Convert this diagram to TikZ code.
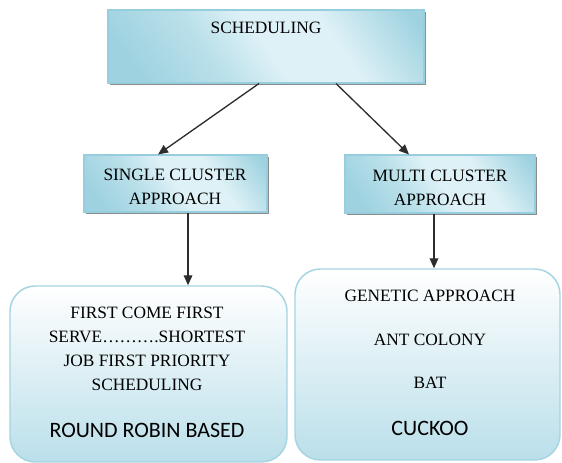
\documentclass[tikz,border=0pt]{standalone}
\usepackage{fontspec}
\setmainfont{Liberation Serif}
\newfontfamily\calibrifont{Carlito}
\usetikzlibrary{arrows.meta,shadows}

\definecolor{boxdark}{RGB}{158,210,224}
\definecolor{boxmid}{RGB}{186,224,234}
\definecolor{boxlight}{RGB}{222,241,246}
\definecolor{boxedge}{RGB}{150,206,222}
\definecolor{roundedge}{RGB}{165,212,226}
\definecolor{roundfill}{RGB}{186,223,234}
\definecolor{linkgray}{RGB}{45,45,45}

% glassy band shading of the square boxes
\pgfdeclarehorizontalshading{glassy}{100bp}{color(0bp)=(boxdark); color(22bp)=(boxdark); color(38bp)=(boxmid); color(50bp)=(boxlight); color(64bp)=(boxlight); color(82bp)=(boxdark); color(100bp)=(boxdark)}

\tikzset{every picture/.style={line width=0.75pt}}
\tikzset{
  sqbox/.style={draw=boxedge, line width=0.8pt, shading=glassy, shading angle=35,
    drop shadow={shadow xshift=1.8pt, shadow yshift=-1.8pt, fill=black!50, opacity=0.9}},
  roundbox/.style={draw=roundedge, line width=1.1pt, rounded corners=19pt,
    top color=white, bottom color=roundfill},
  link/.style={draw=linkgray, line width=1pt, -{Triangle[length=7.5pt,width=6.5pt]}},
  serif/.style={font=\fontsize{13}{18.2}\selectfont, align=center, anchor=base, inner sep=0pt},
  sans/.style={font=\calibrifont\fontsize{16.5}{20}\selectfont, anchor=base, inner sep=0pt}
}

\begin{document}
\begin{tikzpicture}[x=0.75pt,y=0.75pt,yscale=-1,xscale=1]
	\useasboundingbox (0,0) rectangle (562,463);

	%Boxes
	\node [sqbox, minimum width=237pt, minimum height=54.75pt] (sched) at (266,46.5) {};
	\node [sqbox, minimum width=137.25pt, minimum height=42.75pt] (single) at (175.5,183.5) {};
	\node [sqbox, minimum width=142.5pt, minimum height=43.5pt] (multi) at (440,184) {};
	\node [roundbox, minimum width=207.75pt, minimum height=132pt] (singlelist) at (148.5,374) {};
	\node [roundbox, minimum width=198.75pt, minimum height=143.25pt] (multilist) at (427.5,364.5) {};

	%Arrows
	\draw [link] ([xshift=-5.25pt]sched.south) -- ([xshift=-13.1pt]single.north) ;
	\draw [link] ([xshift=52.5pt]sched.south) -- ([xshift=-23.25pt]multi.north) ;
	\draw [link] ([xshift=9.4pt]single.south) -- ([xshift=9.4pt]single.south |- singlelist.north) ;
	\draw [link] ([xshift=-4.5pt]multi.south) -- ([xshift=-4.5pt]multi.south |- multilist.north) ;

	% Text Node (multi-line nodes sit on their last baseline)
	\node [serif] (schedtxt) at (266,34) {SCHEDULING};
	% Text Node
	\node [serif] (singletxt) at (175,205) {SINGLE CLUSTER\\APPROACH};
	% Text Node
	\node [serif] (multitxt) at (440,206) {MULTI CLUSTER\\APPROACH};
	% Text Node
	\node [serif] (fcfs) at (147,391) {FIRST COME FIRST\\SERVE……….SHORTEST\\JOB FIRST PRIORITY\\SCHEDULING};
	% Text Node
	\node [sans] (rr) at (147,438) {ROUND ROBIN BASED};
	% Text Node
	\node [serif] (genetic) at (430,302) {GENETIC APPROACH};
	% Text Node
	\node [serif] (ant) at (430,346) {ANT COLONY};
	% Text Node
	\node [serif] (bat) at (430,389) {BAT};
	% Text Node
	\node [sans] (cuckoo) at (430,436) {CUCKOO};

\end{tikzpicture}
\end{document}
